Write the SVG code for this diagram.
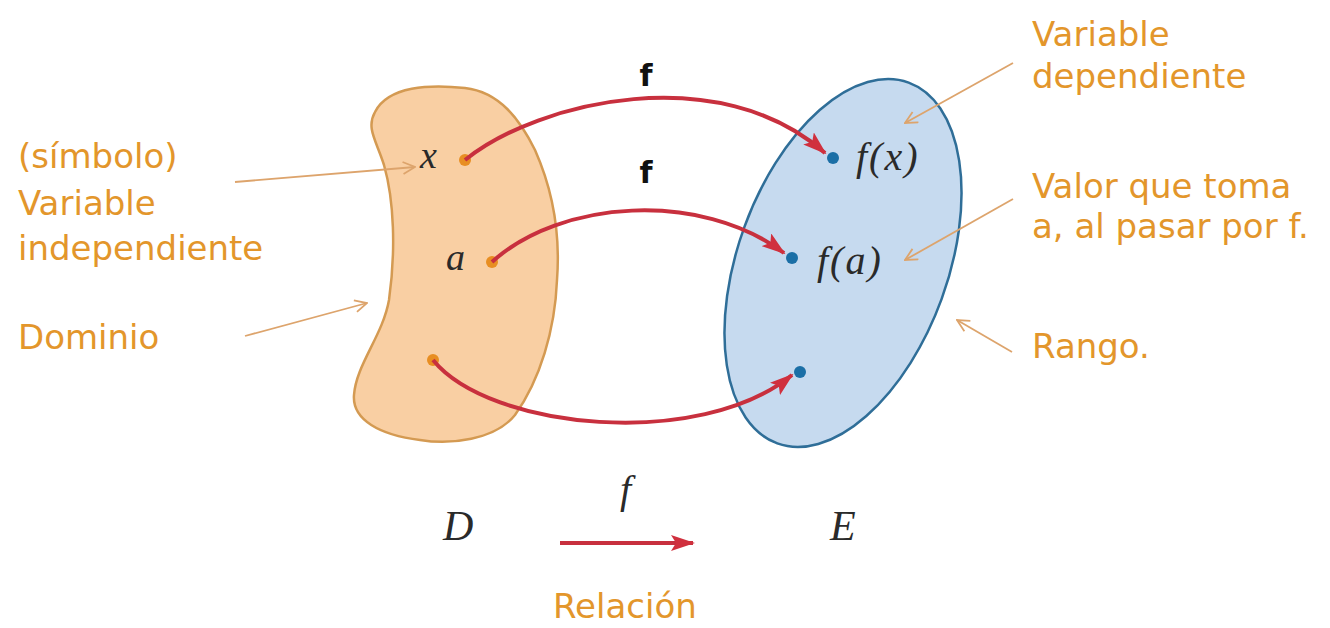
<svg xmlns="http://www.w3.org/2000/svg" width="1330" height="628" viewBox="0 0 1330 628">
  <defs>
    <style>
      .lbl { font-family: "DejaVu Sans", "Noto Sans", sans-serif; font-size: 34px; fill: #E3962B; }
      .math { font-family: "Liberation Serif", "DejaVu Serif", serif; font-style: italic; fill: #2a2a2a; }
      .fsans { font-family: "DejaVu Sans", "Liberation Sans", sans-serif; font-size: 30px; font-weight: bold; fill: #111; }
      .red { fill: none; stroke: #C8303E; stroke-width: 4; }
      .ptr { fill: none; stroke: #DDA46C; stroke-width: 1.8; }
      .odot { fill: #E88E22; }
      .bdot { fill: #1B6FA6; }
    </style>
    <marker id="redhead" viewBox="0 0 24 16" refX="22" refY="8" markerWidth="24" markerHeight="16" markerUnits="userSpaceOnUse" orient="auto">
      <path d="M0,0 L24,8 L0,16 L5,8 Z" fill="#D0303E"/>
    </marker>
    <marker id="openhead" viewBox="0 0 14 14" refX="13" refY="7" markerWidth="14" markerHeight="14" markerUnits="userSpaceOnUse" orient="auto">
      <path d="M1,1 L13,7 L1,13" fill="none" stroke="#DDA46C" stroke-width="1.8"/>
    </marker>
  </defs>
  <rect width="1330" height="628" fill="#ffffff"/>

  <g id="domain">
    <path d="M375,112 C388,86 430,84 465,88 C500,92 520,120 535,150 C555,195 560,240 557,280 C555,330 540,380 515,415 C495,440 450,445 420,440 C380,435 352,420 354,395 C356,365 383,335 389,300 C396,250 394,200 384,165 C376,140 366,128 375,112 Z" fill="#F9CFA3" stroke="#D49A52" stroke-width="2.5"/>
    <text class="math" x="420" y="168" font-size="38">x</text>
    <text class="math" x="446" y="270" font-size="38">a</text>
    <circle class="odot" cx="465" cy="160" r="6"/>
    <circle class="odot" cx="492" cy="262" r="6"/>
    <circle class="odot" cx="433" cy="360" r="6"/>
  </g>

  <g id="range">
    <ellipse cx="843" cy="263" rx="105" ry="192" transform="rotate(20 843 263)" fill="#C6DAEF" stroke="#2F6E98" stroke-width="2.5"/>
    <circle class="bdot" cx="833" cy="158" r="6"/>
    <circle class="bdot" cx="792" cy="258" r="6"/>
    <circle class="bdot" cx="800" cy="372" r="6"/>
    <text class="math" x="856" y="170" font-size="40" letter-spacing="2">f(x)</text>
    <text class="math" x="817" y="274" font-size="40" letter-spacing="2">f(a)</text>
  </g>

  <g id="connectors">
    <path class="red" d="M465,160 C540,100 720,60 825,153" marker-end="url(#redhead)"/>
    <path class="red" d="M492,262 C560,200 700,190 784,253" marker-end="url(#redhead)"/>
    <path class="red" d="M433,360 C490,430 700,450 792,375" marker-end="url(#redhead)"/>
    <line class="red" x1="560" y1="543" x2="693" y2="543" marker-end="url(#redhead)"/>
    <line class="ptr" x1="235" y1="182" x2="415" y2="167" marker-end="url(#openhead)"/>
    <line class="ptr" x1="245" y1="336" x2="367" y2="303" marker-end="url(#openhead)"/>
    <line class="ptr" x1="1013" y1="63" x2="905" y2="123" marker-end="url(#openhead)"/>
    <line class="ptr" x1="1013" y1="199" x2="905" y2="260" marker-end="url(#openhead)"/>
    <line class="ptr" x1="1012" y1="352" x2="957" y2="320" marker-end="url(#openhead)"/>
  </g>

  <g id="arrow-labels">
    <text class="fsans" x="646" y="86" text-anchor="middle">f</text>
    <text class="fsans" x="646" y="183" text-anchor="middle">f</text>
  </g>

  <g id="bottom">
    <text class="math" x="443" y="540" font-size="42">D</text>
    <text class="math" x="620" y="503" font-size="40">f</text>
    <text class="math" x="830" y="540" font-size="42">E</text>
    <text class="lbl" x="553" y="618">Relación</text>
  </g>

  <g id="left-labels">
    <text class="lbl" x="18" y="168">(símbolo)</text>
    <text class="lbl" x="18" y="215">Variable</text>
    <text class="lbl" x="18" y="260">independiente</text>
    <text class="lbl" x="18" y="349">Dominio</text>
  </g>

  <g id="right-labels">
    <text class="lbl" x="1032" y="46">Variable</text>
    <text class="lbl" x="1032" y="88">dependiente</text>
    <text class="lbl" x="1032" y="198">Valor que toma</text>
    <text class="lbl" x="1032" y="238">a, al pasar por f.</text>
    <text class="lbl" x="1032" y="358">Rango.</text>
  </g>
</svg>
